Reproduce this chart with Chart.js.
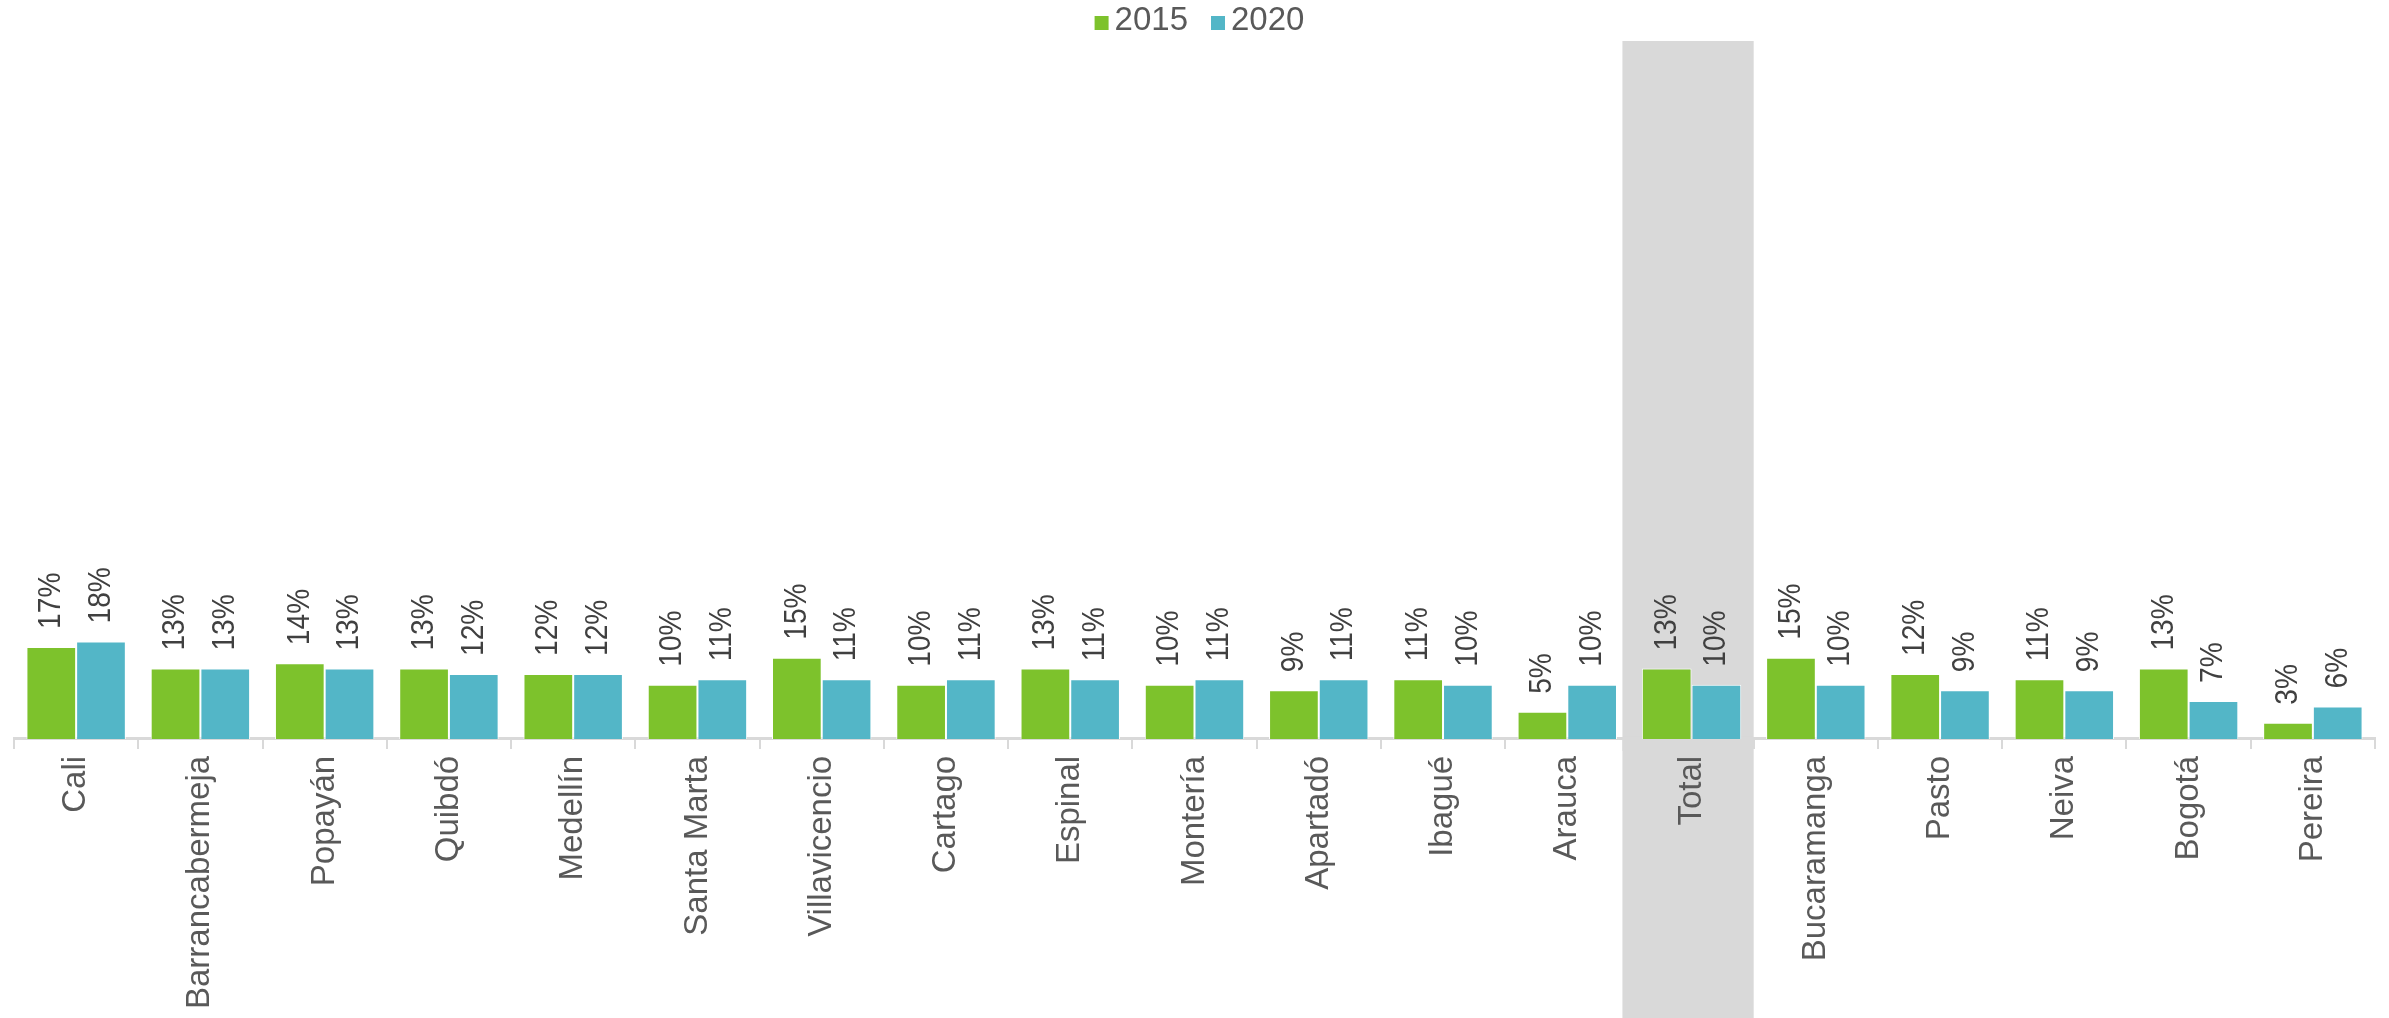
<!DOCTYPE html>
<html>
<head>
<meta charset="utf-8">
<script src="https://cdn.jsdelivr.net/npm/chart.js@4.4.1/dist/chart.umd.min.js"></script>
<style>
  html, body { margin: 0; padding: 0; background: #fff; }
  #wrap { width: 2389px; height: 1018px; }
</style>
</head>
<body>
<div id="wrap"><canvas id="chart"></canvas></div>
<script>
const cities = ['Cali', 'Barrancabermeja', 'Popayán', 'Quibdó', 'Medellín', 'Santa Marta',
  'Villavicencio', 'Cartago', 'Espinal', 'Montería', 'Apartadó', 'Ibagué', 'Arauca',
  'Total', 'Bucaramanga', 'Pasto', 'Neiva', 'Bogotá', 'Pereira'];
const values2015 = [0.17, 0.13, 0.14, 0.13, 0.12, 0.10, 0.15, 0.10, 0.13, 0.10, 0.09, 0.11, 0.05, 0.13, 0.15, 0.12, 0.11, 0.13, 0.03];
const values2020 = [0.18, 0.13, 0.13, 0.12, 0.12, 0.11, 0.11, 0.11, 0.11, 0.11, 0.11, 0.10, 0.10, 0.10, 0.10, 0.09, 0.09, 0.07, 0.06];
const highlight = 'Total';

const FONT = 'Arial, "Liberation Sans", sans-serif';
const BAND = '#d9d9d9';

function bandBounds(chart) {
  const x = chart.scales.x;
  const w = x.width / cities.length;
  const cx = x.getPixelForValue(cities.indexOf(highlight));
  return { left: cx - w / 2 - 7, right: cx + w / 2 };
}

// grey column behind the highlighted category, running down through the labels
const highlightBand = {
  id: 'highlightBand',
  beforeDraw(chart) {
    const b = bandBounds(chart);
    const ctx = chart.ctx;
    ctx.save();
    ctx.fillStyle = BAND;
    ctx.fillRect(b.left, chart.chartArea.top, b.right - b.left, chart.height - chart.chartArea.top);
    ctx.restore();
  },
  // hide the axis line and tick marks where they cross the band
  beforeDatasetsDraw(chart) {
    const b = bandBounds(chart);
    const ctx = chart.ctx;
    const y0 = chart.chartArea.bottom;
    ctx.save();
    ctx.fillStyle = BAND;
    ctx.fillRect(b.left, y0 - 2, b.right - b.left - 1, 14);
    ctx.restore();
  }
};

// vertical percent labels above each bar (slightly condensed)
const barLabels = {
  id: 'barLabels',
  afterDatasetsDraw(chart) {
    const ctx = chart.ctx;
    ctx.save();
    ctx.font = '32px ' + FONT;
    ctx.fillStyle = '#404040';
    ctx.textAlign = 'left';
    ctx.textBaseline = 'middle';
    chart.data.datasets.forEach((ds, i) => {
      chart.getDatasetMeta(i).data.forEach((bar, j) => {
        ctx.save();
        ctx.translate(bar.x, bar.y - 18);
        ctx.rotate(-Math.PI / 2);
        ctx.scale(0.88, 1);
        ctx.fillText(Math.round(ds.data[j] * 100) + '%', 0, 0);
        ctx.restore();
      });
    });
    ctx.restore();
  }
};

// small centred legend in the top margin
const topLegend = {
  id: 'topLegend',
  afterDraw(chart) {
    const ctx = chart.ctx;
    const box = 14, gap = 6, spacing = 23, y = 21;
    ctx.save();
    ctx.font = '33px ' + FONT;
    ctx.textBaseline = 'middle';
    ctx.textAlign = 'left';
    const items = chart.data.datasets.map(ds => ({ text: ds.label, color: ds.backgroundColor, w: ctx.measureText(ds.label).width }));
    const total = items.reduce((s, it) => s + box + gap + it.w, 0) + spacing * (items.length - 1);
    let x = chart.width / 2 - total / 2 + 5;
    items.forEach(it => {
      ctx.fillStyle = it.color;
      ctx.fillRect(x, y - box / 2 + 2, box, box);
      ctx.fillStyle = '#595959';
      ctx.fillText(it.text, x + box + gap, y);
      x += box + gap + it.w + spacing;
    });
    ctx.restore();
  }
};

new Chart(document.getElementById('chart'), {
  type: 'bar',
  data: {
    labels: cities,
    datasets: [
      { label: '2015', data: values2015, backgroundColor: '#7dc22c', borderColor: '#ffffff', borderWidth: 1 },
      { label: '2020', data: values2020, backgroundColor: '#53b6c7', borderColor: '#ffffff', borderWidth: 1 }
    ]
  },
  options: {
    responsive: true,
    maintainAspectRatio: false,
    animation: false,
    layout: { padding: { left: 14, right: 14, top: 41, bottom: 2 } },
    datasets: { bar: { barPercentage: 1, categoryPercentage: 0.8 } },
    plugins: {
      legend: { display: false },
      tooltip: { enabled: false }
    },
    scales: {
      x: {
        grid: { drawOnChartArea: false, drawTicks: true, tickLength: 10, color: '#d9d9d9', lineWidth: 2 },
        border: { color: '#d9d9d9', width: 3 },
        ticks: {
          font: { size: 33, family: FONT },
          color: '#595959',
          minRotation: 90,
          maxRotation: 90,
          padding: 7,
          autoSkip: false
        }
      },
      y: { display: false, min: 0, max: 1.29 }
    }
  },
  plugins: [highlightBand, barLabels, topLegend]
});
</script>
</body>
</html>
